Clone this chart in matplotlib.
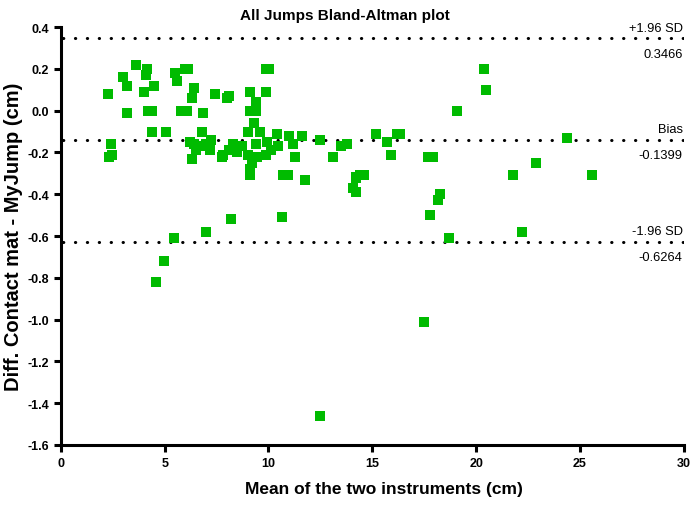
import matplotlib
matplotlib.use("Agg")
import matplotlib.pyplot as plt

plt.rcParams['font.family'] = ['Liberation Sans', 'DejaVu Sans']

# Mean of the two instruments (cm) and difference (cm)
mean_cm = [2.26, 2.3, 2.45, 2.4, 3.0, 3.2, 3.2, 3.6, 4.0, 4.1, 4.15, 4.2, 4.4,
           4.5, 4.4, 5.05, 4.6, 4.95, 5.45, 5.5, 5.6, 5.8, 6.05, 6.0, 6.1,
           6.4, 6.3, 6.2, 6.3, 6.4, 6.7, 6.85, 6.8, 7.2, 7.25, 7.0, 7.4, 7.75,
           8.0, 8.1, 8.1, 8.3, 8.2, 8.7, 9.0, 9.0, 9.1, 9.1, 9.4, 9.4, 9.3,
           9.1, 9.1, 9.4, 9.6, 9.9, 10.0, 9.9, 9.95, 9.9, 9.45, 10.1, 10.4,
           10.45, 10.65, 10.7, 10.95, 11.0, 11.2, 11.3, 11.6, 11.75, 12.5,
           12.47, 13.1, 13.5, 13.8, 14.06, 14.2, 14.2, 14.4, 14.6, 15.2, 15.7,
           15.9, 16.2, 16.35, 17.5, 17.7, 17.9, 17.8, 18.15, 18.25, 18.7, 19.1,
           20.4, 20.5, 21.8, 22.2, 22.9, 24.4, 25.6, 6.5, 8.5, 7.8, 9.2, 7.0]
diff_cm = [0.08, -0.22, -0.21, -0.16, 0.16, 0.12, -0.01, 0.22, 0.09, 0.17,
           0.20, 0.0, 0.0, 0.12, -0.10, -0.10, -0.82, -0.72, -0.61, 0.18, 0.14,
           0.0, 0.0, 0.20, 0.20, 0.11, 0.06, -0.15, -0.23, -0.16, -0.17, -0.01,
           -0.10, -0.19, -0.14, -0.58, 0.08, -0.22, 0.06, 0.07, -0.19, -0.16,
           -0.52, -0.17, -0.10, -0.21, 0.09, 0.0, 0.0, 0.04, -0.06, -0.28,
           -0.31, -0.16, -0.10, 0.20, 0.20, 0.09, -0.15, -0.21, -0.22, -0.19,
           -0.11, -0.17, -0.51, -0.31, -0.31, -0.12, -0.16, -0.22, -0.12,
           -0.33, -0.14, -1.46, -0.22, -0.17, -0.16, -0.37, -0.39, -0.32,
           -0.31, -0.31, -0.11, -0.15, -0.21, -0.11, -0.11, -1.01, -0.22,
           -0.22, -0.50, -0.43, -0.40, -0.61, 0.0, 0.20, 0.10, -0.31, -0.58,
           -0.25, -0.13, -0.31, -0.19, -0.20, -0.21, -0.25, -0.16]

upper_loa = 0.3466
bias = -0.1399
lower_loa = -0.6264

fig = plt.figure(figsize=(6.92, 5.06), dpi=100)
ax = fig.add_axes([0.088, 0.1186, 0.9, 0.826])

ax.scatter(mean_cm, diff_cm, marker='s', s=52, color='#00bb00',
           edgecolors='none', zorder=3)

# limits of agreement and bias as dotted lines
for val, top, bottom in [(upper_loa, '+1.96 SD', '0.3466'),
                         (bias, 'Bias', '-0.1399'),
                         (lower_loa, '-1.96 SD', '-0.6264')]:
    ax.plot([0.1, 30], [val, val], color='black', linewidth=2.2,
            linestyle=(0, (0.1, 3.8)), dash_capstyle='round', zorder=2)
    ax.text(29.95, val + 0.022, top, ha='right', va='bottom', fontsize=9.3)
    ax.text(29.95, val - 0.045, bottom, ha='right', va='top', fontsize=9.3)

ax.set_xlim(0, 30)
ax.set_ylim(-1.6, 0.4)
ax.set_xticks(range(0, 31, 5))
ax.set_yticks([0.4, 0.2, 0.0, -0.2, -0.4, -0.6, -0.8, -1.0, -1.2, -1.4, -1.6])
ax.set_yticklabels(['0.4', '0.2', '0.0', '-0.2', '-0.4', '-0.6', '-0.8',
                    '-1.0', '-1.2', '-1.4', '-1.6'])

for side in ['top', 'right']:
    ax.spines[side].set_visible(False)
for side in ['left', 'bottom']:
    ax.spines[side].set_linewidth(2.2)
ax.tick_params(width=2.2, length=5, labelsize=9, direction='out')
for lbl in ax.get_xticklabels() + ax.get_yticklabels():
    lbl.set_fontweight('bold')

ax.set_title('All Jumps Bland-Altman plot', fontsize=11, fontweight='bold',
             pad=6, x=0.456)
ax.set_xlabel('Mean of the two instruments (cm)', fontsize=12.5,
              fontweight='bold', labelpad=8)
ax.xaxis.set_label_coords(0.518, -0.085)
ax.set_ylabel('Diff. Contact mat - MyJump (cm)', fontsize=14.5,
              fontweight='bold', labelpad=3)

fig.savefig('out.png', dpi=100)
